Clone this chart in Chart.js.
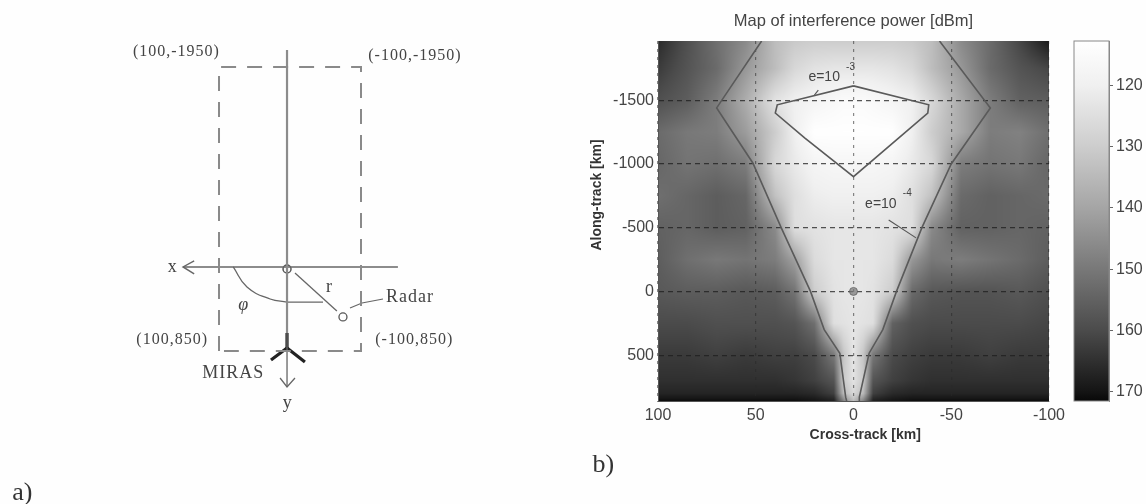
<!DOCTYPE html>
<html lang="en">
<head>
    <meta charset="UTF-8">
    <title>Map of interference power</title>
    <script src="https://cdn.jsdelivr.net/npm/chart.js"></script>
    <style>
        html, body { margin: 0; padding: 0; width: 1146px; height: 504px; overflow: hidden; background: #fefefe; }
        canvas { position: absolute; top: 0; filter: blur(0.7px); }
        #diagram { left: 0; }
        #powerMap { left: 570px; }
        #colorBar { left: 1060px; }
    </style>
</head>
<body>
    <canvas id="diagram" width="570" height="504"></canvas>
    <canvas id="powerMap" width="500" height="504"></canvas>
    <canvas id="colorBar" width="86" height="504"></canvas>
    <script>
        // heat map values (colour bar units)
        const crossTrack = [100, 85, 70, 55, 40, 30, 20, 10, 5, 0, -5, -10, -20, -30, -40, -55, -70, -85, -100];
        const alongTrack = [-1965, -1750, -1500, -1250, -1000, -750, -500, -250, 0, 250, 500, 700, 800, 860];
        const powerRows = [
            [166, 159, 152, 146, 134, 131, 130, 130, 130, 130, 130, 130, 130, 131, 134, 146, 153, 161, 169],
            [163, 158, 153, 143, 134, 127, 124, 123, 123, 123, 123, 123, 124, 127, 134, 143, 153, 158, 161],
            [159, 156, 149, 138, 124, 120, 118, 116, 115, 115, 115, 116, 118, 120, 127, 139, 149, 155, 156],
            [153, 150, 149, 142, 130, 120, 113, 113, 113, 113, 113, 113, 113, 120, 130, 139, 149, 148, 152],
            [154, 151, 152, 149, 127, 122, 118, 117, 117, 117, 117, 117, 118, 122, 127, 149, 151, 150, 154],
            [152, 154, 156, 154, 133, 125, 121, 120, 120, 120, 120, 120, 121, 125, 133, 153, 155, 154, 153],
            [155, 154, 156, 155, 146, 125, 124, 123, 123, 123, 123, 123, 124, 125, 146, 155, 155, 154, 155],
            [156, 152, 150, 151, 149, 141, 126, 123, 123, 123, 123, 123, 126, 143, 150, 149, 151, 153, 156],
            [157, 156, 156, 157, 156, 151, 130, 124, 123, 123, 123, 124, 130, 153, 157, 158, 158, 157, 159],
            [160, 160, 159, 159, 159, 158, 152, 125, 124, 123, 124, 125, 155, 159, 160, 160, 160, 160, 161],
            [163, 163, 162, 163, 162, 162, 160, 150, 132, 123, 132, 150, 160, 162, 163, 163, 162, 163, 163],
            [165, 165, 165, 165, 165, 164, 162, 158, 131, 124, 131, 158, 162, 164, 165, 165, 165, 165, 165],
            [167, 167, 167, 167, 167, 167, 166, 162, 135, 127, 135, 162, 166, 167, 167, 167, 167, 167, 167],
            [171, 171, 171, 171, 171, 171, 170, 168, 148, 134, 148, 168, 170, 171, 171, 171, 171, 171, 171]
        ];

        // colour bar: gray level at each power level
        const barLevels = [112.8, 120, 130, 140, 150, 160, 170, 171.5];
        const barGrays = [255, 240, 205, 165, 120, 75, 20, 8];
        const barTicks = [120, 130, 140, 150, 160, 170];

        const crossTicks = [100, 50, 0, -50, -100];
        const alongTicks = [-1500, -1000, -500, 0, 500];

        // contours
        const outerLeftX = [47, 70, 51.5, 37, 22, 15, 7, 4, 3.5];
        const outerLeftY = [-1965, -1440, -1008, -500, 0, 300, 485, 830, 860];
        const outerRightX = [-44, -70, -50, -35, -22, -15, -8, -3, -3];
        const outerRightY = [-1965, -1440, -1000, -500, 0, 300, 485, 830, 860];
        const innerX = [0, 39, 40, 25, 0, -38, -38.5, 0];
        const innerY = [-1613, -1464, -1400, -1205, -900, -1400, -1464, -1613];
        const leaderTopX = [18, 20];
        const leaderTopY = [-1580, -1540];
        const leaderLowX = [-18, -32];
        const leaderLowY = [-561, -420];

        // diagram on the left, in its own x/y units
        const rectX = [100, 100, -100, -100, 93];
        const rectY = [850, -1950, -1950, 850, 850];
        const yAxisX = [4.2, 4.2];
        const yAxisY = [-2118, 673];
        const yArrowX = [4.2, 4.2];
        const yArrowY = [673, 1206];
        const yHeadX = [14, 4.2, -7];
        const yHeadY = [1117, 1206, 1117];
        const xAxisX = [150.7, -152];
        const xAxisY = [22, 22];
        const xHeadX = [135, 150.7, 135];
        const xHeadY = [-37, 22, 91];
        const rangeX = [-7, -66];
        const rangeY = [82, 456];
        const arcX = [80, 60.6, 28, 4.2];
        const arcY = [22, 220, 338, 368];
        const arcEndX = [4.2, -46.5];
        const arcEndY = [368, 368];
        const radarLineX = [-84.5, -101.4, -131];
        const radarLineY = [427, 377, 338];
        const mirasStemX = [4.2, 4.2];
        const mirasStemY = [673, 821];
        const mirasArmsX = [26.8, 4.2, -21];
        const mirasArmsY = [940, 821, 959];

        function toPoints(xs, ys) {
            return xs.map(function(x, i) { return { x: x, y: ys[i] }; });
        }

        function lineSet(xs, ys, color, width, extra) {
            return Object.assign({
                data: toPoints(xs, ys),
                showLine: true,
                pointRadius: 0,
                borderColor: color,
                borderWidth: width
            }, extra || {});
        }

        function interpolate(levels, values, v) {
            for (let i = 0; i < levels.length - 1; i++) {
                if (v <= levels[i + 1]) {
                    const t = (v - levels[i]) / (levels[i + 1] - levels[i]);
                    return values[i] + t * (values[i + 1] - values[i]);
                }
            }
            return values[values.length - 1];
        }

        function grayFor(v) {
            return interpolate(barLevels, barGrays, v);
        }

        function cellIndex(list, v, descending) {
            for (let i = 0; i < list.length - 2; i++) {
                if (descending ? v >= list[i + 1] : v <= list[i + 1]) return i;
            }
            return list.length - 2;
        }

        // paints the map behind the grid, every pixel goes through the chart scales
        const heatmapPlugin = {
            id: 'heatmap',
            beforeDraw: function(chart) {
                const area = chart.chartArea;
                const w = Math.round(area.right - area.left);
                const h = Math.round(area.bottom - area.top);
                const off = document.createElement('canvas');
                off.width = w;
                off.height = h;
                const offCtx = off.getContext('2d');
                const img = offCtx.createImageData(w, h);
                for (let py = 0; py < h; py++) {
                    const yv = chart.scales.y.getValueForPixel(area.top + py + 0.5);
                    const r = cellIndex(alongTrack, yv, false);
                    const ty = Math.min(1, Math.max(0, (yv - alongTrack[r]) / (alongTrack[r + 1] - alongTrack[r])));
                    for (let px = 0; px < w; px++) {
                        const xv = chart.scales.x.getValueForPixel(area.left + px + 0.5);
                        const c = cellIndex(crossTrack, xv, true);
                        const tx = Math.min(1, Math.max(0, (xv - crossTrack[c]) / (crossTrack[c + 1] - crossTrack[c])));
                        const top = powerRows[r][c] + tx * (powerRows[r][c + 1] - powerRows[r][c]);
                        const low = powerRows[r + 1][c] + tx * (powerRows[r + 1][c + 1] - powerRows[r + 1][c]);
                        const g = grayFor(top + ty * (low - top));
                        const k = (py * w + px) * 4;
                        img.data[k] = g;
                        img.data[k + 1] = g;
                        img.data[k + 2] = g;
                        img.data[k + 3] = 255;
                    }
                }
                offCtx.putImageData(img, 0, 0);
                chart.ctx.drawImage(off, area.left, area.top);
            }
        };

        // gray ramp of the colour bar
        const rampPlugin = {
            id: 'ramp',
            beforeDatasetsDraw: function(chart) {
                const area = chart.chartArea;
                const y = chart.scales.y;
                const grad = chart.ctx.createLinearGradient(0, area.top, 0, area.bottom);
                barLevels.forEach(function(level, i) {
                    const stop = (y.getPixelForValue(level) - area.top) / (area.bottom - area.top);
                    const g = barGrays[i];
                    grad.addColorStop(Math.min(1, Math.max(0, stop)), 'rgb(' + g + ',' + g + ',' + g + ')');
                });
                chart.ctx.fillStyle = grad;
                chart.ctx.fillRect(area.left, area.top, area.right - area.left, area.bottom - area.top);
                chart.ctx.strokeStyle = '#888';
                chart.ctx.lineWidth = 1;
                chart.ctx.strokeRect(area.left, area.top, area.right - area.left, area.bottom - area.top);
            }
        };

        // free text placed in data units, list comes from plugin options
        const notesPlugin = {
            id: 'notes',
            afterDraw: function(chart, args, opts) {
                const ctx = chart.ctx;
                opts.items.forEach(function(n) {
                    ctx.save();
                    ctx.font = n.font;
                    ctx.fillStyle = n.color || '#444';
                    ctx.letterSpacing = n.spacing || '0px';
                    ctx.textAlign = 'center';
                    ctx.textBaseline = 'middle';
                    ctx.translate(chart.scales.x.getPixelForValue(n.x), chart.scales.y.getPixelForValue(n.y));
                    ctx.rotate(n.rot || 0);
                    ctx.fillText(n.text, 0, 0);
                    ctx.restore();
                });
            }
        };

        const serif = '"Liberation Serif"';
        const sans = '"Liberation Sans"';

        new Chart(document.getElementById('diagram'), {
            type: 'scatter',
            plugins: [notesPlugin],
            data: {
                datasets: [
                    lineSet(rectX, rectY, '#8a8a8a', 2, { borderDash: [15, 11] }),
                    lineSet(yAxisX, yAxisY, '#8c8c8c', 2.2),
                    lineSet(yArrowX, yArrowY, '#666', 1.3),
                    lineSet(yHeadX, yHeadY, '#666', 1.3),
                    lineSet(xAxisX, xAxisY, '#666', 1.4),
                    lineSet(xHeadX, xHeadY, '#666', 1.4),
                    lineSet(rangeX, rangeY, '#666', 1.3),
                    lineSet(arcX, arcY, '#666', 1.3, { tension: 0.45 }),
                    lineSet(arcEndX, arcEndY, '#666', 1.3),
                    lineSet(radarLineX, radarLineY, '#666', 1.2),
                    lineSet(mirasStemX, mirasStemY, '#222', 3.2),
                    lineSet(mirasArmsX, mirasArmsY, '#222', 3.2),
                    {
                        data: [{ x: 4.2, y: 42 }],
                        pointRadius: 4,
                        pointBackgroundColor: '#fefefe',
                        pointBorderColor: '#555',
                        pointBorderWidth: 1.5
                    },
                    {
                        data: [{ x: -74.6, y: 515 }],
                        pointRadius: 4,
                        pointBackgroundColor: '#fefefe',
                        pointBorderColor: '#555',
                        pointBorderWidth: 1.3
                    }
                ]
            },
            options: {
                responsive: false,
                animation: false,
                layout: { padding: 0, autoPadding: false },
                scales: {
                    x: { display: false, type: 'linear', reverse: true, min: -394.4, max: 408.5 },
                    y: { display: false, type: 'linear', reverse: true, min: -2610.7, max: 2359.7 }
                },
                plugins: {
                    legend: { display: false },
                    tooltip: { enabled: false },
                    notes: {
                        items: [
                            { text: '(100,-1950)', x: 160, y: -2098, font: '16px ' + serif, spacing: '1px' },
                            { text: '(-100,-1950)', x: -176, y: -2058, font: '16px ' + serif, spacing: '1px' },
                            { text: '(100,850)', x: 166, y: 742, font: '16px ' + serif, spacing: '1px' },
                            { text: '(-100,850)', x: -175, y: 742, font: '16px ' + serif, spacing: '1px' },
                            { text: 'MIRAS', x: 80, y: 1068, font: '18px ' + serif, spacing: '1px' },
                            { text: 'x', x: 166, y: 22, font: '18px ' + serif },
                            { text: 'y', x: 4, y: 1370, font: '18px ' + serif },
                            { text: 'r', x: -55, y: 220, font: '18px ' + serif },
                            { text: '\u03c6', x: 66, y: 397, font: 'italic 18px ' + serif },
                            { text: 'Radar', x: -169, y: 318, font: '18px ' + serif, spacing: '1px' },
                            { text: 'a)', x: 377, y: 2251, font: '26px ' + serif, color: '#333' }
                        ]
                    }
                }
            }
        });

        new Chart(document.getElementById('powerMap'), {
            type: 'scatter',
            plugins: [heatmapPlugin, notesPlugin],
            data: {
                datasets: [
                    lineSet(outerLeftX, outerLeftY, '#5a5a5a', 1.6),
                    lineSet(outerRightX, outerRightY, '#5a5a5a', 1.6),
                    lineSet(innerX, innerY, '#5a5a5a', 1.6),
                    lineSet(leaderTopX, leaderTopY, '#555', 1.1),
                    lineSet(leaderLowX, leaderLowY, '#555', 1.1),
                    {
                        data: [{ x: 0, y: 0 }],
                        pointRadius: 4,
                        pointBackgroundColor: 'rgba(120,120,120,0.7)',
                        pointBorderColor: 'rgba(90,90,90,0.7)',
                        pointBorderWidth: 1
                    }
                ]
            },
            options: {
                responsive: false,
                animation: false,
                layout: { padding: { right: 19 }, autoPadding: false },
                scales: {
                    x: {
                        type: 'linear',
                        reverse: true,
                        min: -100,
                        max: 100,
                        afterBuildTicks: function(scale) {
                            scale.ticks = crossTicks.map(function(v) { return { value: v }; });
                        },
                        afterFit: function(scale) { scale.height = 103; },
                        ticks: {
                            color: '#444',
                            padding: 5,
                            maxRotation: 0,
                            font: { family: sans, size: 16 },
                            callback: function(v) { return String(v); }
                        },
                        border: { color: '#555', dash: [3, 5] },
                        grid: { color: 'rgba(40,40,40,0.55)', tickLength: 0, lineWidth: 1.2 }
                    },
                    y: {
                        type: 'linear',
                        reverse: true,
                        min: -1965,
                        max: 860,
                        afterBuildTicks: function(scale) {
                            scale.ticks = alongTicks.map(function(v) { return { value: v }; });
                        },
                        afterFit: function(scale) { scale.width = 88; },
                        ticks: {
                            color: '#444',
                            padding: 4,
                            font: { family: sans, size: 16 },
                            callback: function(v) { return String(v); }
                        },
                        border: { color: '#555', dash: [5, 4] },
                        grid: { color: 'rgba(30,30,30,0.75)', tickLength: 0, lineWidth: 1.2 }
                    }
                },
                plugins: {
                    legend: { display: false },
                    tooltip: { enabled: false },
                    title: {
                        display: true,
                        fullSize: false,
                        text: 'Map of interference power [dBm]',
                        color: '#444',
                        font: { family: sans, size: 16.5, weight: 'normal' },
                        padding: { top: 12, bottom: 9.2 }
                    },
                    notes: {
                        items: [
                            { text: 'e=10', x: 15, y: -1684, font: '14px ' + sans },
                            { text: '-3', x: 1.5, y: -1762, font: '10px ' + sans },
                            { text: 'e=10', x: -14, y: -687, font: '14px ' + sans },
                            { text: '-4', x: -27.5, y: -773, font: '10px ' + sans },
                            { text: 'Cross-track [km]', x: -6, y: 1126, font: 'bold 14px ' + sans, color: '#333' },
                            { text: 'Along-track [km]', x: 131, y: -757, rot: -Math.PI / 2, font: 'bold 14px ' + sans, color: '#333' },
                            { text: 'b)', x: 128, y: 1362, font: '26px ' + serif, color: '#333' }
                        ]
                    }
                }
            }
        });

        new Chart(document.getElementById('colorBar'), {
            type: 'scatter',
            plugins: [rampPlugin],
            data: { datasets: [] },
            options: {
                responsive: false,
                animation: false,
                layout: { padding: { left: 14, top: 41, bottom: 103 }, autoPadding: false },
                scales: {
                    x: { display: false, type: 'linear', min: 0, max: 1 },
                    y: {
                        type: 'linear',
                        position: 'right',
                        reverse: true,
                        min: 112.8,
                        max: 171.5,
                        afterBuildTicks: function(scale) {
                            scale.ticks = barTicks.map(function(v) { return { value: v }; });
                        },
                        afterFit: function(scale) { scale.width = 37; },
                        ticks: {
                            color: '#444',
                            padding: 3,
                            font: { family: sans, size: 16 },
                            callback: function(v) { return String(v); }
                        },
                        border: { color: '#888', width: 1 },
                        grid: { drawOnChartArea: false, color: '#666', tickLength: 4 }
                    }
                },
                plugins: {
                    legend: { display: false },
                    tooltip: { enabled: false }
                }
            }
        });
    </script>
</body>
</html>
